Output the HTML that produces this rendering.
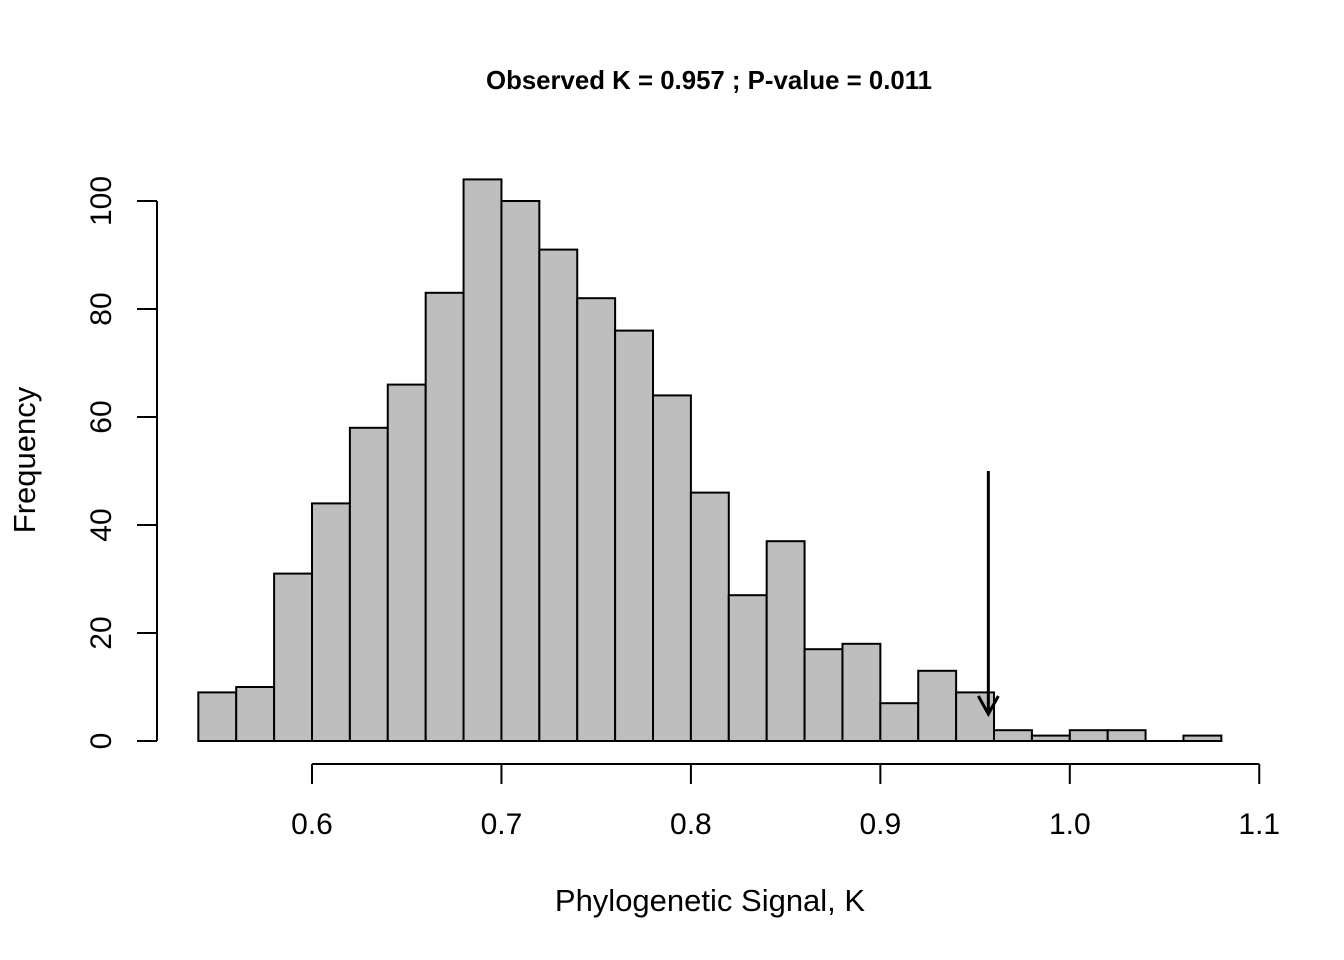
<!DOCTYPE html>
<html><head><meta charset="utf-8"><style>html,body{margin:0;background:#fff}svg{display:block}text{font-family:"Liberation Sans",Arial,sans-serif}</style></head>
<body>
<svg id="c" width="1344" height="960" viewBox="0 0 1344 960">
<text x="709" y="89" text-anchor="middle" font-size="25.8" font-weight="bold">Observed K = 0.957 ; P-value = 0.011</text>
<text x="710" y="911" text-anchor="middle" font-size="31">Phylogenetic Signal, K</text>
<text transform="translate(35,460) rotate(-90)" text-anchor="middle" font-size="31">Frequency</text>
<g id="bars"></g><g id="axes"></g>
</svg>
<script>
const binStarts=[0.54,0.56,0.58,0.60,0.62,0.64,0.66,0.68,0.70,0.72,0.74,0.76,0.78,0.80,0.82,0.84,0.86,0.88,0.90,0.92,0.94,0.96,0.98,1.00,1.02,1.04,1.06];
const counts=[9,10,31,44,58,66,83,104,100,91,82,76,64,46,27,37,17,18,7,13,9,2,1,2,2,0,1];
const binWidth=0.02;
const xTicks=[0.6,0.7,0.8,0.9,1.0,1.1];
const xTickLabels=["0.6","0.7","0.8","0.9","1.0","1.1"];
const yTicks=[0,20,40,60,80,100];
const observedK=0.957;
const arrowFrom=50, arrowTo=5;
const X=v=>312+(v-0.6)*1894.5, Y=v=>741-v*5.4;
const NS="http://www.w3.org/2000/svg";
function mk(p,t,a){const e=document.createElementNS(NS,t);for(const k in a)e.setAttribute(k,a[k]);p.appendChild(e);return e;}
const bars=document.getElementById('bars'),axes=document.getElementById('axes');
binStarts.forEach((b,i)=>{if(counts[i]===0){const l=mk(bars,'line',{x1:X(b),x2:X(b+binWidth),y1:Y(0),y2:Y(0),stroke:'#000','stroke-width':2});return;}
const r=mk(bars,'rect',{x:X(b),y:Y(counts[i]),width:X(b+binWidth)-X(b),height:Y(0)-Y(counts[i]),fill:'#bebebe',stroke:'#000','stroke-width':2});

});
let l=mk(axes,'line',{x1:X(xTicks[0]),x2:X(xTicks[xTicks.length-1]),y1:764,y2:764,stroke:'#000','stroke-width':2});


xTicks.forEach((t,i)=>{mk(axes,'line',{x1:X(t),x2:X(t),y1:764,y2:784,stroke:'#000','stroke-width':2});
const tx=mk(axes,'text',{x:X(t),y:834,'text-anchor':'middle','font-size':30});tx.textContent=xTickLabels[i];

});
l=mk(axes,'line',{x1:157,x2:157,y1:Y(yTicks[0]),y2:Y(yTicks[yTicks.length-1]),stroke:'#000','stroke-width':2});


yTicks.forEach(t=>{mk(axes,'line',{x1:137,x2:157,y1:Y(t),y2:Y(t),stroke:'#000','stroke-width':2});
const tx=mk(axes,'text',{transform:`translate(111,${Y(t)}) rotate(-90)`,'text-anchor':'middle','font-size':30});tx.textContent=String(t);

});
const ax=X(observedK),y1=Y(arrowFrom),y2=Y(arrowTo);
const g=mk(axes,'g',{stroke:'#000','stroke-width':3,fill:'none'});


mk(g,'line',{x1:ax,x2:ax,y1:y1,y2:y2});
mk(g,'polyline',{points:`${ax-10},${y2-18} ${ax},${y2} ${ax+10},${y2-18}`});
</script>
</body></html>
